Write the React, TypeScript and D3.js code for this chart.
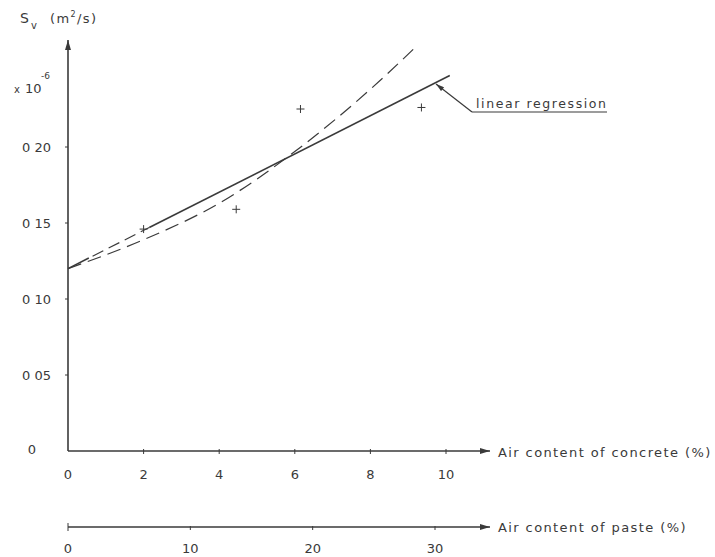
import React from "react";
import * as d3 from "d3";

// Measured points (air content of concrete %, S_v x 1e-6 m²/s)
const pointX = [2.0, 4.45, 6.15, 9.35];
const pointY = [0.146, 0.159, 0.225, 0.226];

// Linear regression line end points
const regX = [0, 10.1];
const regY = [0.12, 0.247];

// Fitted curve (dashed), read along its course
const curveX = [0, 2, 4, 6, 8, 9.25];
const curveY = [0.12, 0.139, 0.163, 0.197, 0.238, 0.267];

// Axis ticks
const concreteTicks = [0, 2, 4, 6, 8, 10];
const pasteTicks = [0, 10, 20, 30];
const yTicks = [0.05, 0.1, 0.15, 0.2];
const yTickLabels = ["0 05", "0 10", "0 15", "0 20"];

const W = 715;
const H = 557;
const INK = "#3a3a3a";
const FONT = "'DejaVu Sans', sans-serif";

export default function App() {
  const x = d3.scaleLinear().domain([0, 10]).range([68, 446]);
  const xp = d3.scaleLinear().domain([0, 30]).range([68, 435]);
  const y = d3.scaleLinear().domain([0, 0.25]).range([451, 71]);

  const x0 = x(0);
  const y0 = y(0);
  const pasteY = 527;

  const regAt = (v: number) =>
    regY[0] + ((regY[1] - regY[0]) * (v - regX[0])) / (regX[1] - regX[0]);
  const lineGen = d3
    .line<[number, number]>()
    .x((d) => x(d[0]))
    .y((d) => y(d[1]));
  const curveGen = d3
    .line<[number, number]>()
    .x((d) => x(d[0]))
    .y((d) => y(d[1]))
    .curve(d3.curveMonotoneX);

  const regSolidA: [number, number][] = [
    [0, regAt(0)],
    [0.55, regAt(0.55)],
  ];
  const regDashed: [number, number][] = [
    [0.65, regAt(0.65)],
    [2.15, regAt(2.15)],
  ];
  const regSolidB: [number, number][] = [
    [2.15, regAt(2.15)],
    [regX[1], regAt(regX[1])],
  ];
  const curvePts = curveX.map((v, i) => [v, curveY[i]] as [number, number]);

  const textStyle = { fontFamily: FONT, fill: INK } as const;
  const wide = { fontFamily: FONT, fill: INK, letterSpacing: "1.4px" } as const;

  return (
    <svg
      width={W}
      height={H}
      style={{ position: "absolute", left: 0, top: 0, background: "#fff" }}
    >
      <defs>
        <marker
          id="arr"
          viewBox="0 0 10 6"
          refX="10"
          refY="3"
          markerWidth="15"
          markerHeight="6"
          markerUnits="userSpaceOnUse"
          orient="auto"
        >
          <path d="M0,0 L10,3 L0,6 Z" fill={INK} />
        </marker>
        <marker
          id="arrSmall"
          viewBox="0 0 10 6"
          refX="10"
          refY="3"
          markerWidth="10"
          markerHeight="5"
          markerUnits="userSpaceOnUse"
          orient="auto"
        >
          <path d="M0,0 L10,3 L0,6 Z" fill={INK} />
        </marker>
      </defs>

      {/* Y axis */}
      <line
        x1={x0}
        y1={y0}
        x2={x0}
        y2={40}
        stroke={INK}
        strokeWidth={1.6}
        markerEnd="url(#arr)"
      />
      {yTicks.map((t, i) => (
        <g key={t}>
          <line x1={x0 - 3} x2={x0} y1={y(t)} y2={y(t)} stroke={INK} strokeWidth={1} />
          <text
            x={51}
            y={y(t) + 5}
            textAnchor="end"
            fontSize={13}
            style={textStyle}
          >
            {yTickLabels[i]}
          </text>
        </g>
      ))}
      <text x={32} y={y0 + 3} textAnchor="middle" fontSize={13} style={textStyle}>
        0
      </text>

      {/* Y axis title and scale factor */}
      <text x={20} y={23} fontSize={14} style={textStyle}>
        S
      </text>
      <text x={31} y={29} fontSize={10} style={textStyle}>
        v
      </text>
      <text x={50} y={23} fontSize={13} style={wide}>
        (m
        <tspan dy={-6} fontSize={8}>
          2
        </tspan>
        <tspan dy={6}>/s)</tspan>
      </text>
      <text x={14} y={93} fontSize={10} style={textStyle}>
        x
      </text>
      <text x={25} y={93} fontSize={13} style={textStyle}>
        10
      </text>
      <text x={41} y={79} fontSize={9} style={textStyle}>
        -6
      </text>

      {/* X axis: air content of concrete */}
      <line
        x1={x0}
        y1={y0}
        x2={490}
        y2={y0}
        stroke={INK}
        strokeWidth={1.6}
        markerEnd="url(#arr)"
      />
      {concreteTicks.map((t) => (
        <g key={t}>
          {t > 0 && (
            <line x1={x(t)} x2={x(t)} y1={y0 - 2} y2={y0 + 3} stroke={INK} strokeWidth={1} />
          )}
          <text x={x(t)} y={479} textAnchor="middle" fontSize={13} style={textStyle}>
            {t}
          </text>
        </g>
      ))}
      <text x={498} y={457} fontSize={13} style={wide}>
        Air content of concrete (%)
      </text>

      {/* Second X axis: air content of paste */}
      <line
        x1={x0}
        y1={pasteY}
        x2={490}
        y2={pasteY}
        stroke={INK}
        strokeWidth={1.4}
        markerEnd="url(#arr)"
      />
      {pasteTicks.map((t) => (
        <g key={t}>
          <line
            x1={xp(t)}
            x2={xp(t)}
            y1={t === 0 ? pasteY - 4 : pasteY - 1}
            y2={t === 0 ? pasteY + 4 : pasteY + 3}
            stroke={INK}
            strokeWidth={1}
          />
          <text x={xp(t)} y={553} textAnchor="middle" fontSize={13} style={textStyle}>
            {t}
          </text>
        </g>
      ))}
      <text x={498} y={532} fontSize={13} style={wide}>
        Air content of paste (%)
      </text>

      {/* Fitted curve */}
      <path
        d={curveGen(curvePts) ?? ""}
        fill="none"
        stroke={INK}
        strokeWidth={1.2}
        strokeDasharray="14 7"
      />

      {/* Linear regression */}
      <path d={lineGen(regSolidA) ?? ""} fill="none" stroke={INK} strokeWidth={1.6} />
      <path
        d={lineGen(regDashed) ?? ""}
        fill="none"
        stroke={INK}
        strokeWidth={1.2}
        strokeDasharray="12 6"
      />
      <path d={lineGen(regSolidB) ?? ""} fill="none" stroke={INK} strokeWidth={1.6} />

      {/* Measured points */}
      {pointX.map((v, i) => (
        <g key={i} stroke={INK} strokeWidth={1}>
          <line x1={x(v) - 4} x2={x(v) + 4} y1={y(pointY[i])} y2={y(pointY[i])} />
          <line x1={x(v)} x2={x(v)} y1={y(pointY[i]) - 4} y2={y(pointY[i]) + 4} />
        </g>
      ))}

      {/* Annotation */}
      <line
        x1={472}
        y1={112}
        x2={436}
        y2={84}
        stroke={INK}
        strokeWidth={1.2}
        markerEnd="url(#arrSmall)"
      />
      <line x1={472} y1={112} x2={607} y2={112} stroke={INK} strokeWidth={1.2} />
      <text x={476} y={108} fontSize={12.5} style={{ ...textStyle, letterSpacing: "1.6px" }}>
        linear regression
      </text>
    </svg>
  );
}
